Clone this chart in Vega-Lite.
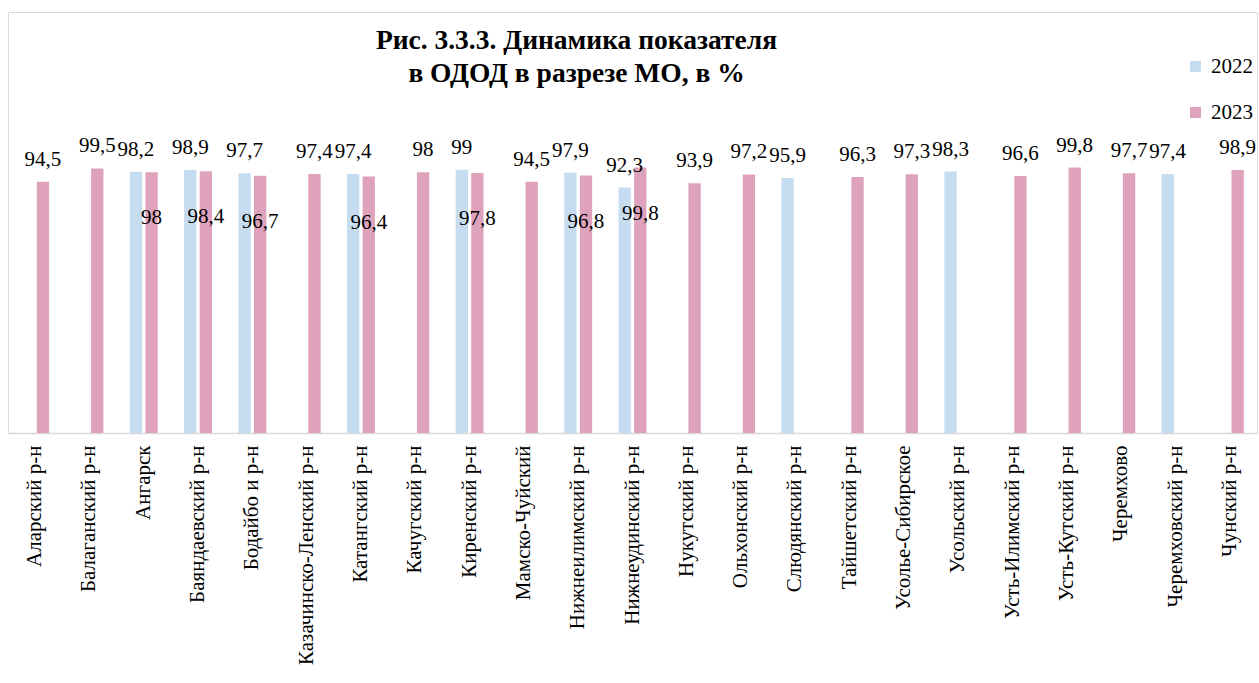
{
  "$schema": "https://vega.github.io/schema/vega-lite/v6.json",
  "width": 1249,
  "height": 421,
  "padding": {"left": 8, "top": 12, "right": 2, "bottom": 0},
  "background": "white",
  "config": {
    "locale": {"number": {"decimal": ",", "thousands": " ", "grouping": [3], "currency": ["", " ₽"]}},
    "view": {"stroke": "#d9d9d9", "strokeWidth": 1},
    "font": "'Liberation Serif', 'Times New Roman', 'DejaVu Serif', serif"
  },
  "title": {
    "text": ["Рис. 3.3.3. Динамика показателя", "в ОДОД в разрезе МО, в %"],
    "font": "'Liberation Serif', 'Times New Roman', 'DejaVu Serif', serif",
    "fontSize": 27.5,
    "fontWeight": "bold",
    "color": "black",
    "lineHeight": 33,
    "anchor": "middle",
    "frame": "group",
    "offset": -75,
    "dx": -56
  },
  "data": {
    "values": [
      {"district": "Аларский р-н", "year": "2023", "value": 94.5},
      {"district": "Балаганский р-н", "year": "2023", "value": 99.5},
      {"district": "Ангарск", "year": "2022", "value": 98.2},
      {"district": "Ангарск", "year": "2023", "value": 98},
      {"district": "Баяндаевский р-н", "year": "2022", "value": 98.9},
      {"district": "Баяндаевский р-н", "year": "2023", "value": 98.4},
      {"district": "Бодайбо и р-н", "year": "2022", "value": 97.7},
      {"district": "Бодайбо и р-н", "year": "2023", "value": 96.7},
      {"district": "Казачинско-Ленский р-н", "year": "2023", "value": 97.4},
      {"district": "Катангский р-н", "year": "2022", "value": 97.4},
      {"district": "Катангский р-н", "year": "2023", "value": 96.4},
      {"district": "Качугский р-н", "year": "2023", "value": 98},
      {"district": "Киренский р-н", "year": "2022", "value": 99},
      {"district": "Киренский р-н", "year": "2023", "value": 97.8},
      {"district": "Мамско-Чуйский", "year": "2023", "value": 94.5},
      {"district": "Нижнеилимский р-н", "year": "2022", "value": 97.9},
      {"district": "Нижнеилимский р-н", "year": "2023", "value": 96.8},
      {"district": "Нижнеудинский р-н", "year": "2022", "value": 92.3},
      {"district": "Нижнеудинский р-н", "year": "2023", "value": 99.8},
      {"district": "Нукутский р-н", "year": "2023", "value": 93.9},
      {"district": "Ольхонский р-н", "year": "2023", "value": 97.2},
      {"district": "Слюдянский р-н", "year": "2022", "value": 95.9},
      {"district": "Тайшетский р-н", "year": "2023", "value": 96.3},
      {"district": "Усолье-Сибирское", "year": "2023", "value": 97.3},
      {"district": "Усольский р-н", "year": "2022", "value": 98.3},
      {"district": "Усть-Илимский р-н", "year": "2023", "value": 96.6},
      {"district": "Усть-Кутский р-н", "year": "2023", "value": 99.8},
      {"district": "Черемхово", "year": "2023", "value": 97.7},
      {"district": "Черемховский р-н", "year": "2022", "value": 97.4},
      {"district": "Чунский р-н", "year": "2023", "value": 98.9}
    ]
  },
  "transform": [
    {"joinaggregate": [{"op": "count", "as": "n"}], "groupby": ["district"]}
  ],
  "encoding": {
    "x": {
      "field": "district",
      "type": "nominal",
      "sort": null,
      "scale": {"paddingInner": 0.486, "paddingOuter": 0.243},
      "axis": {
        "title": null,
        "labelAngle": -90,
        "labelFontSize": 21,
        "labelColor": "black",
        "labelPadding": 12,
        "labelLimit": 400,
        "ticks": false,
        "domainColor": "#d9d9d9",
        "domainWidth": 1.5,
        "grid": false
      }
    },
    "xOffset": {
      "field": "year",
      "type": "nominal",
      "scale": {"domain": ["2022", "2023"], "paddingInner": 0.21, "paddingOuter": 0}
    },
    "y": {
      "field": "value",
      "type": "quantitative",
      "scale": {"domain": [0, 158.3], "nice": false, "zero": true},
      "axis": null
    }
  },
  "layer": [
    {
      "mark": {"type": "bar"},
      "encoding": {
        "color": {
          "field": "year",
          "type": "nominal",
          "scale": {"domain": ["2022", "2023"], "range": ["#c6dcf1", "#dfa2bc"]},
          "legend": {
            "title": null,
            "orient": "none",
            "legendX": 1177,
            "legendY": 44,
            "symbolType": "square",
            "symbolSize": 121,
            "symbolStrokeWidth": 0,
            "labelFontSize": 21,
            "labelColor": "black",
            "labelOffset": 5,
            "rowPadding": 24,
            "padding": 0
          }
        }
      }
    },
    {
      "transform": [{"filter": "datum.year === '2022' || datum.n === 1"}],
      "mark": {"type": "text", "baseline": "alphabetic", "dy": -16, "fontSize": 21, "color": "black"},
      "encoding": {"text": {"field": "value", "type": "quantitative", "format": ".1~f"}}
    },
    {
      "transform": [{"filter": "datum.year === '2023' && datum.n === 2"}],
      "mark": {"type": "text", "baseline": "alphabetic", "dy": 52, "fontSize": 21, "color": "black"},
      "encoding": {"text": {"field": "value", "type": "quantitative", "format": ".1~f"}}
    }
  ]
}
